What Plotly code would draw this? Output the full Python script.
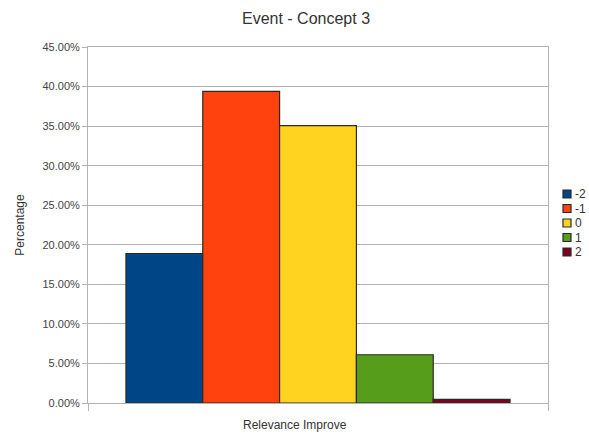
import plotly.graph_objects as go

# Share of responses for each relevance-improvement score
category = "Relevance Improve"
series_names = ["-2", "-1", "0", "1", "2"]
series_values = [18.9, 39.4, 35.05, 6.1, 0.45]
series_colors = ["#004586", "#ff420e", "#ffd320", "#579d1c", "#7e0021"]
tick_values = [0, 5, 10, 15, 20, 25, 30, 35, 40, 45]
tick_labels = [f"{v:.2f}%" for v in tick_values]

FONT = "Liberation Sans, Arial, sans-serif"
GRID = "#b3b3b3"

fig = go.Figure()
for name, val, col in zip(series_names, series_values, series_colors):
    fig.add_trace(go.Bar(
        x=[category], y=[val], name=name,
        marker=dict(color=col, line=dict(color="#2a2a2a", width=1.2)),
        showlegend=False,
    ))

# plot area geometry (pixels) used for the hand-built legend
W, H = 589, 435
ml, mr, mt, mb = 88, 41, 47, 32
pw, ph = W - ml - mr, H - mt - mb

shapes = []
annotations = []
for i, (name, col) in enumerate(zip(series_names, series_colors)):
    cy = 194 + 14.5 * i
    py = (H - mb - cy) / ph
    px = (567 - ml) / pw
    shapes.append(dict(
        type="rect", xref="paper", yref="paper",
        xsizemode="pixel", ysizemode="pixel",
        xanchor=px, yanchor=py, x0=-4, x1=4, y0=-4, y1=4,
        fillcolor=col, line=dict(color="#2a2a2a", width=1.2),
    ))
    annotations.append(dict(
        xref="paper", yref="paper", x=(573 - ml) / pw, y=py,
        xanchor="left", yanchor="middle", text=name, showarrow=False,
        font=dict(family=FONT, size=12, color="#333333"),
    ))

annotations.append(dict(
    xref="paper", yref="paper", x=(295 - ml) / pw, y=-(425 - (H - mb)) / ph,
    xanchor="center", yanchor="middle", text=category, showarrow=False,
    font=dict(family=FONT, size=12, color="#333333"),
))

fig.update_layout(
    width=W, height=H,
    margin=dict(l=ml, r=mr, t=mt, b=mb),
    paper_bgcolor="white", plot_bgcolor="white",
    barmode="group", bargap=0.165, bargroupgap=0,
    font=dict(family=FONT, color="#333333"),
    title=dict(text="Event - Concept 3", x=306 / W, xref="container", xanchor="center",
               y=1 - 18 / H, yref="container", yanchor="middle",
               font=dict(family=FONT, size=16, color="#333333")),
    xaxis=dict(
        showticklabels=False, showgrid=False,
        tickson="boundaries", ticks="outside", ticklen=7, tickcolor=GRID,
        showline=True, linecolor=GRID, linewidth=1, mirror=True,
    ),
    yaxis=dict(
        range=[0, 45], tickvals=tick_values, ticktext=tick_labels,
        ticks="outside", ticklen=5, tickcolor=GRID,
        tickfont=dict(family=FONT, size=11, color="#444444"),
        showgrid=True, gridcolor=GRID, gridwidth=1,
        showline=True, linecolor=GRID, linewidth=1, mirror=True,
        zeroline=False,
        title=dict(text="Percentage", font=dict(family=FONT, size=12, color="#333333")),
    ),
    shapes=shapes, annotations=annotations,
)

fig.write_html("out.html")
